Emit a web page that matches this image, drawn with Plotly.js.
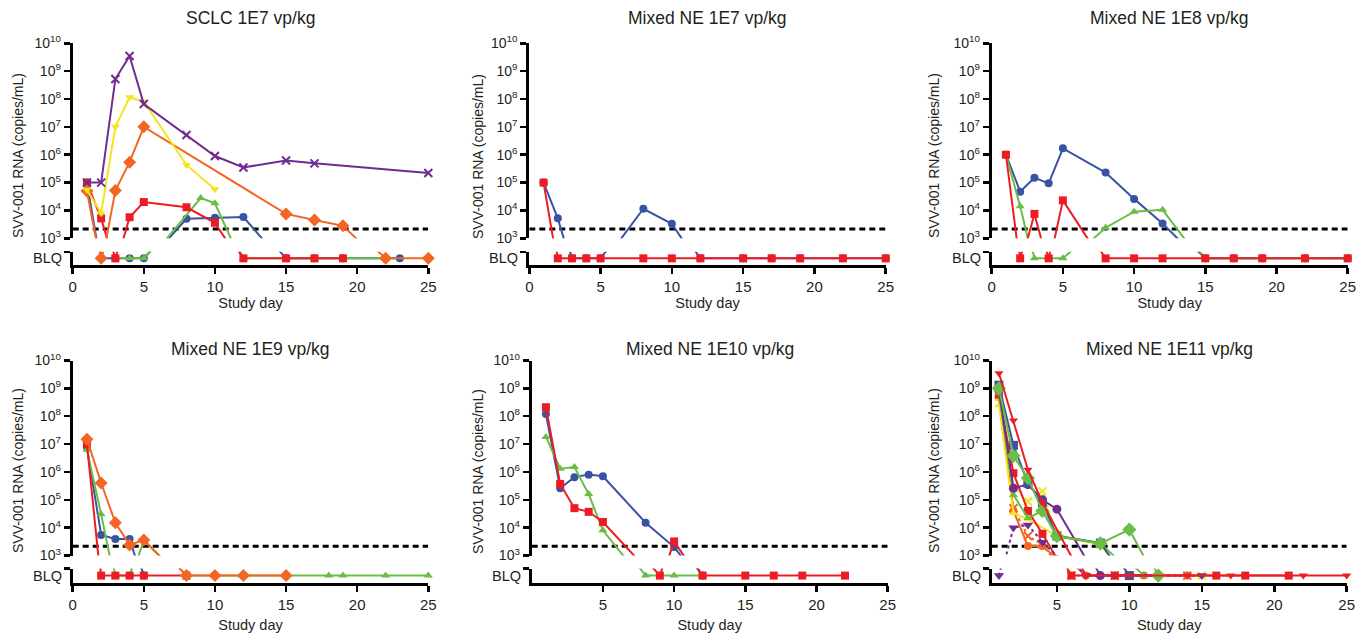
<!DOCTYPE html>
<html><head><meta charset="utf-8">
<script src="https://cdn.plot.ly/plotly-3.0.1.min.js"></script>
<style>html,body{margin:0;padding:0;background:#fff}#chart{width:1371px;height:639px}</style>
</head><body><div id="chart"></div>
<script>
// ---------------- DATA ----------------
const BLQ = 'BLQ';
const LLOQ = 2150;
const panelTitles = ['SCLC 1E7 vp/kg','Mixed NE 1E7 vp/kg','Mixed NE 1E8 vp/kg','Mixed NE 1E9 vp/kg','Mixed NE 1E10 vp/kg','Mixed NE 1E11 vp/kg'];
const yAxisTitle = 'SVV-001 RNA (copies/mL)';
const xAxisTitle = 'Study day';
const blqLabel = 'BLQ';
const yTickValues = [1e3,1e4,1e5,1e6,1e7,1e8,1e9,1e10];
const yTickLabels = ['10<sup>3</sup>','10<sup>4</sup>','10<sup>5</sup>','10<sup>6</sup>','10<sup>7</sup>','10<sup>8</sup>','10<sup>9</sup>','10<sup>10</sup>'];
const xTicksWithZero = [0,5,10,15,20,25];
const xTicksNoZero = [5,10,15,20,25];

// Panel 1: SCLC 1E7
const p1BlueDays = [1,2,3,4,5,8,10,12,15,17,19,23];
const p1BlueVals = [1e5,BLQ,BLQ,BLQ,BLQ,5e3,5.5e3,5.8e3,BLQ,BLQ,BLQ,BLQ];
const p1RedDays = [1,2,3,4,5,8,10,12,15,17,19];
const p1RedVals = [1e5,5.2e3,BLQ,5.7e3,2e4,1.3e4,3.6e3,BLQ,BLQ,BLQ,BLQ];
const p1GreenDays = [3,4,5,9,10,12,15,17,19,22];
const p1GreenVals = [BLQ,BLQ,BLQ,2.8e4,1.8e4,BLQ,BLQ,BLQ,BLQ,BLQ];
const p1OrangeDays = [1,2,3,4,5,15,17,19,22,25];
const p1OrangeVals = [5e4,BLQ,5.2e4,5.4e5,1e7,7.5e3,4.5e3,2.8e3,BLQ,BLQ];
const p1YellowDays = [1,2,3,4,5,8,10];
const p1YellowVals = [5.5e4,8e3,1e7,1.15e8,8e7,4.3e5,5.8e4];
const p1PurpleDays = [1,2,3,4,5,8,10,12,15,17,25];
const p1PurpleVals = [1e5,1e5,5.2e8,3.5e9,6.6e7,5.1e6,9e5,3.5e5,6.2e5,4.9e5,2.2e5];

// Panel 2: Mixed NE 1E7
const p2BlueDays = [1,2,3,4,5,8,10,12,15,17,19,22,25];
const p2BlueVals = [1e5,5.2e3,BLQ,BLQ,BLQ,1.15e4,3.3e3,BLQ,BLQ,BLQ,BLQ,BLQ,BLQ];
const p2RedDays = [1,2,3,4,5,8,10,12,15,17,19,22,25];
const p2RedVals = [1e5,BLQ,BLQ,BLQ,BLQ,BLQ,BLQ,BLQ,BLQ,BLQ,BLQ,BLQ,BLQ];

// Panel 3: Mixed NE 1E8
const p3BlueDays = [1,2,3,4,5,8,10,12,15,17,19,22,25];
const p3BlueVals = [1e6,4.7e4,1.5e5,9.4e4,1.7e6,2.3e5,2.6e4,3.4e3,BLQ,BLQ,BLQ,BLQ,BLQ];
const p3GreenDays = [1,2,3,4,5,8,10,12,15,17,19,22,25];
const p3GreenVals = [1e6,1.4e4,BLQ,BLQ,BLQ,2.4e3,9e3,1.05e4,BLQ,BLQ,BLQ,BLQ,BLQ];
const p3RedDays = [1,2,3,4,5,8,10,12,15,17,19,22,25];
const p3RedVals = [1e6,BLQ,7.5e3,BLQ,2.3e4,BLQ,BLQ,BLQ,BLQ,BLQ,BLQ,BLQ,BLQ];

// Panel 4: Mixed NE 1E9
const p4BlueDays = [1,2,3,4,5];
const p4BlueVals = [7.8e6,5.5e3,3.9e3,3.9e3,BLQ];
const p4GreenDays = [1,2,3,4,5,8,10,12,15,18,19,22,25];
const p4GreenVals = [6.2e6,3e4,BLQ,BLQ,3.6e3,BLQ,BLQ,BLQ,BLQ,BLQ,BLQ,BLQ,BLQ];
const p4RedDays = [1,2,3,4,5,8];
const p4RedVals = [1e7,BLQ,BLQ,BLQ,BLQ,BLQ];
const p4OrangeDays = [1,2,3,4,5,8,10,12,15];
const p4OrangeVals = [1.5e7,4e5,1.5e4,2.4e3,3.6e3,BLQ,BLQ,BLQ,BLQ];

// Panel 5: Mixed NE 1E10
const p5BlueDays = [1,2,3,4,5,8,10,12];
const p5BlueVals = [1.2e8,2.6e5,6.5e5,8e5,7e5,1.5e4,2e3,BLQ];
const p5GreenDays = [1,2,3,4,5,8,10,12];
const p5GreenVals = [1.8e7,1.3e6,1.5e6,1.6e5,8e3,BLQ,BLQ,BLQ];
const p5RedDays = [1,2,3,4,5,9,10,12,15,17,19,22];
const p5RedVals = [2.1e8,3.7e5,5e4,3.7e4,1.6e4,BLQ,3.2e3,BLQ,BLQ,BLQ,BLQ,BLQ];

// Panel 6: Mixed NE 1E11
const p6RedTriDays = [1,2,3,4,7,10,14,17,22,25];
const p6RedTriVals = [3.5e9,7e7,1.2e6,8e4,BLQ,BLQ,BLQ,BLQ,BLQ,BLQ];
const p6RedSqDays = [1,2,3,4,6,9,16,18,21];
const p6RedSqVals = [6e8,9e5,4e4,6e3,BLQ,BLQ,BLQ,BLQ,BLQ];
const p6BlueSqDays = [1,2,3,4,5,8,10];
const p6BlueSqVals = [1.3e9,9e6,4e5,8e4,5e3,2.8e3,BLQ];
const p6GreenDiaDays = [1,2,3,4,5,8,10,12];
const p6GreenDiaVals = [1e9,3.8e6,6e5,4e4,5e3,2.7e3,8.5e3,BLQ];
const p6PurpleCircDays = [1,2,3,4,5,8,12];
const p6PurpleCircVals = [9e8,2.6e5,3.5e5,1e5,4.6e4,BLQ,BLQ];
const p6PurpleTriDays = [1,2,3,4,7,10,12,15];
const p6PurpleTriVals = [BLQ,1e4,1.25e4,3e3,BLQ,BLQ,BLQ,BLQ];
const p6YellowXDays = [1,2,3,4,5,8,10,15];
const p6YellowXVals = [5e8,3e5,8.7e4,2e5,5.5e3,2.6e3,BLQ,BLQ];
const p6YellowTriDays = [1,2,3,5,8,10];
const p6YellowTriVals = [2.5e8,3.3e4,2e4,5e3,2.5e3,BLQ];
const p6OrangeCircDays = [1,2,3,4,7,9,11,14];
const p6OrangeCircVals = [5e8,4e4,2.2e3,2.2e3,BLQ,BLQ,BLQ,BLQ];
const p6OrangeXDays = [1,2,3,4,6,9,14];
const p6OrangeXVals = [6e8,5e4,5e3,2.5e3,BLQ,BLQ,BLQ];
const p6GreenTriDays = [1,2,3,4,5,8,11];
const p6GreenTriVals = [7e8,1.5e5,2.2e4,4e4,5e3,2.7e3,BLQ];

// ---------------- STYLE ----------------
const FONT = 'Liberation Sans, Arial, Helvetica, sans-serif';
const TXT = '#231f20';
const C = {blue:'#3953a4', red:'#ed1c24', green:'#6abd45', orange:'#f26522', yellow:'#f2e51f', purple:'#6f2c91'};
const M = {
  circle:{symbol:'circle', size:8}, square:{symbol:'square', size:8}, tri:{symbol:'triangle-up', size:8},
  dia:{symbol:'diamond', size:10}, tridown:{symbol:'triangle-down', size:8}, x:{symbol:'x-thin-open', size:8}
};

const panels = [
  [ [p1BlueDays,p1BlueVals,C.blue,M.circle,'solid'], [p1GreenDays,p1GreenVals,C.green,M.tri,'solid'],
    [p1RedDays,p1RedVals,C.red,M.square,'solid'], [p1OrangeDays,p1OrangeVals,C.orange,M.dia,'solid'],
    [p1YellowDays,p1YellowVals,C.yellow,M.tridown,'solid'], [p1PurpleDays,p1PurpleVals,C.purple,M.x,'solid'] ],
  [ [p2BlueDays,p2BlueVals,C.blue,M.circle,'solid'], [p2RedDays,p2RedVals,C.red,M.square,'solid'] ],
  [ [p3BlueDays,p3BlueVals,C.blue,M.circle,'solid'], [p3GreenDays,p3GreenVals,C.green,M.tri,'solid'],
    [p3RedDays,p3RedVals,C.red,M.square,'solid'] ],
  [ [p4BlueDays,p4BlueVals,C.blue,M.circle,'solid'], [p4GreenDays,p4GreenVals,C.green,M.tri,'solid'],
    [p4RedDays,p4RedVals,C.red,M.square,'solid'], [p4OrangeDays,p4OrangeVals,C.orange,M.dia,'solid'] ],
  [ [p5BlueDays,p5BlueVals,C.blue,M.circle,'solid'], [p5GreenDays,p5GreenVals,C.green,M.tri,'solid'],
    [p5RedDays,p5RedVals,C.red,M.square,'solid'] ],
  [ [p6OrangeXDays,p6OrangeXVals,C.orange,M.x,'dot'], [p6OrangeCircDays,p6OrangeCircVals,C.orange,M.circle,'solid'],
    [p6YellowTriDays,p6YellowTriVals,C.yellow,M.tri,'solid'], [p6YellowXDays,p6YellowXVals,C.yellow,M.x,'dot'],
    [p6RedSqDays,p6RedSqVals,C.red,M.square,'solid'], [p6GreenTriDays,p6GreenTriVals,C.green,M.tri,'solid'],
    [p6PurpleTriDays,p6PurpleTriVals,C.purple,{symbol:'triangle-down',size:9},'dot'],
    [p6PurpleCircDays,p6PurpleCircVals,C.purple,{symbol:'circle',size:9},'solid'],
    [p6BlueSqDays,p6BlueSqVals,C.blue,{symbol:'square',size:9},'solid'],
    [p6GreenDiaDays,p6GreenDiaVals,C.green,{symbol:'diamond',size:11},'solid'],
    [p6RedTriDays,p6RedTriVals,C.red,M.tridown,'solid'] ]
];

// layout geometry (pixels)
const W = 1371, H = 639;
const BLQ_PLOT = 100;              // plotting position of BLQ in the lower strip
const LOW_RANGE = [1.755, 2.245];  // log10 range of BLQ strip
const cols = [
  {x0:72.7, x1:428.3, yt:18}, {x0:529.3, x1:885.7, yt:478}, {x0:991.7, x1:1347.7, yt:934},
  {x0:72.7, x1:428.3, yt:18}, {x0:531.7, x1:887.7, yt:478}, {x0:991.7, x1:1346.7, yt:934}
];
const rows = [
  {top:43.3, bot:238.3, lowTop:251.7, lowBot:265, title:18, ytitle:156, standoff:4},
  {top:360.5, bot:555.5, lowTop:568.5, lowBot:582.7, title:349, ytitle:471, standoff:9}
];
const xRanges = [[0,25],[0,25],[0,25],[0,25],[0,25],[0.5,25]];
const xTicks = [xTicksWithZero,xTicksWithZero,xTicksWithZero,xTicksWithZero,xTicksNoZero,xTicksNoZero];

const px = v => v / W, py = v => 1 - v / H;

const traces = [];
const layout = {
  width: W, height: H, margin:{l:0,r:0,t:0,b:0}, showlegend:false,
  paper_bgcolor:'#ffffff', plot_bgcolor:'rgba(0,0,0,0)',
  font:{family:FONT, color:TXT, size:14},
  annotations:[]
};

panels.forEach((series, i) => {
  const p = i + 1, r = rows[i < 3 ? 0 : 1], c = cols[i];
  const xa = 'x' + p, yu = 'y' + (2*p - 1), yl = 'y' + (2*p);
  const axisCommon = {showline:true, linewidth:3, linecolor:'#000', ticks:'outside', ticklen:6, tickwidth:2.5,
    tickcolor:'#000', showgrid:false, zeroline:false, tickfont:{size:15, family:FONT, color:TXT}};
  layout['xaxis' + p] = Object.assign({}, axisCommon, {
    domain:[px(c.x0), px(c.x1)], anchor:yl, range:xRanges[i], tickmode:'array', tickvals:xTicks[i],
    ticktext:xTicks[i].map(String), title:{text:xAxisTitle, font:{size:14.5, family:FONT, color:TXT}, standoff:r.standoff}
  });
  layout['yaxis' + (2*p - 1)] = Object.assign({}, axisCommon, {
    domain:[py(r.bot), py(r.top)], anchor:xa, type:'log', range:[3,10], tickmode:'array',
    tickvals:yTickValues, ticktext:yTickLabels, tickfont:{size:14, family:FONT, color:TXT}
  });
  layout['yaxis' + (2*p)] = Object.assign({}, axisCommon, {
    domain:[py(r.lowBot), py(r.lowTop)], anchor:xa, type:'log', range:LOW_RANGE, tickmode:'array',
    tickvals:[Math.pow(10, LOW_RANGE[1] - 0.002)], ticktext:[' ']
  });
  // BLQ label
  layout.annotations.push({xref:'paper', x:px(c.x0 - 9), xanchor:'right', yref:yl, y:Math.log10(BLQ_PLOT),
    yanchor:'middle', text:blqLabel, showarrow:false, font:{size:14.5, family:FONT, color:TXT}});
  // panel title
  layout.annotations.push({xref:'paper', x:px((c.x0 + c.x1)/2), xanchor:'center', yref:'paper', y:py(r.title),
    yanchor:'middle', text:panelTitles[i], showarrow:false, font:{size:17.5, family:FONT, color:TXT}});
  // y axis title
  layout.annotations.push({xref:'paper', x:px(c.yt), xanchor:'center', yref:'paper', y:py(r.ytitle),
    yanchor:'middle', text:yAxisTitle, textangle:-90, showarrow:false, font:{size:14, family:FONT, color:TXT}});

  // LLOQ dashed line
  traces.push({x:xRanges[i], y:[LLOQ, LLOQ], xaxis:xa, yaxis:yu, mode:'lines', hoverinfo:'skip',
    line:{color:'#000', width:3, dash:'6px,4px'}});

  series.forEach(([days, vals, color, mk, dash]) => {
    const yPlot = vals.map(v => v === BLQ ? BLQ_PLOT : v);
    const base = {x:days, y:yPlot, xaxis:xa, mode:'lines+markers', cliponaxis:false,
      line:{color:color, width:2, dash:dash}};
    const isOpen = mk.symbol.indexOf('open') >= 0;
    const mkUpper = {symbol:mk.symbol, color:color, opacity:1, size:vals.map(v => v === BLQ ? 0 : mk.size),
      line:{width:isOpen ? 2 : 0, color:color}};
    const mkLower = {symbol:mk.symbol, color:color, opacity:1, size:vals.map(v => v === BLQ ? mk.size : 0),
      line:{width:isOpen ? 2 : 0, color:color}};
    traces.push(Object.assign({}, base, {yaxis:yu, marker:mkUpper}));
    traces.push(Object.assign({}, base, {yaxis:yl, marker:mkLower}));
  });
});

Plotly.newPlot('chart', traces, layout, {staticPlot:true, displayModeBar:false});
</script></body></html>
